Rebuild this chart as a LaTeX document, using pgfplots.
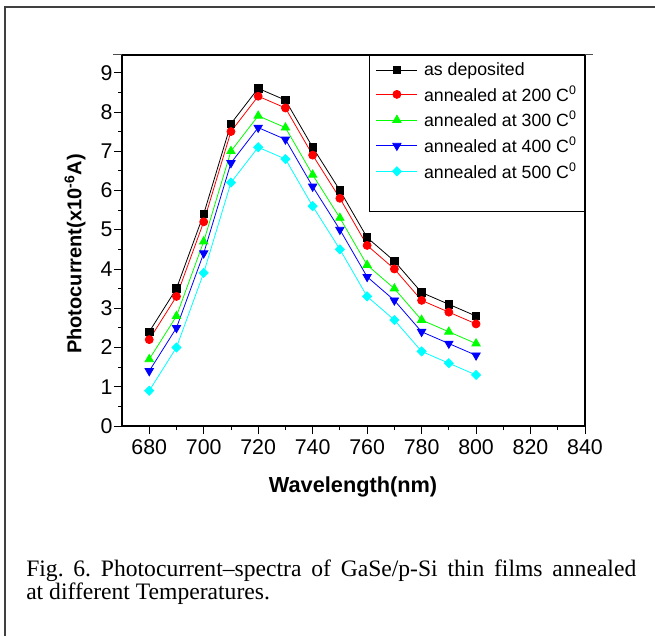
\documentclass[border=0pt]{standalone}
\usepackage{fontspec}
\setmainfont{Liberation Sans}
\newfontfamily\capfont{Liberation Serif}
\usepackage{pgfplots}
\pgfplotsset{compat=1.18}
\definecolor{cgreen}{RGB}{0,255,0}
\definecolor{ccyan}{RGB}{0,255,255}
\definecolor{cblue}{RGB}{0,0,255}
\definecolor{cred}{RGB}{255,0,0}

\pgfplotstableread{
wl   dep  a200 a300 a400 a500
680  2.4  2.2  1.7  1.4  0.9
690  3.5  3.3  2.8  2.5  2.0
700  5.4  5.2  4.7  4.4  3.9
710  7.7  7.5  7.0  6.7  6.2
720  8.6  8.4  7.9  7.6  7.1
730  8.3  8.1  7.6  7.3  6.8
740  7.1  6.9  6.4  6.1  5.6
750  6.0  5.8  5.3  5.0  4.5
760  4.8  4.6  4.1  3.8  3.3
770  4.2  4.0  3.5  3.2  2.7
780  3.4  3.2  2.7  2.4  1.9
790  3.1  2.9  2.4  2.1  1.6
800  2.8  2.6  2.1  1.8  1.3
}\photo

\begin{document}
\begin{tikzpicture}
\useasboundingbox (0,0) rectangle (491.25pt,477pt);
% frame of the figure (top and left edges only, rest is cropped)
\draw[line width=1.4pt, black!75] (491.25pt,471.75pt) -- (3.75pt,471.75pt) -- (3.75pt,0pt);

\begin{axis}[
    at={(91.5pt,157.5pt)}, anchor=south west,
    scale only axis, width=347.25pt, height=278.25pt,
    xmin=670, xmax=840, ymin=0, ymax=9.45,
    xtick={680,700,...,840}, ytick={0,1,...,9},
    minor x tick num=1, minor y tick num=1,
    xtick pos=bottom, ytick pos=left,
    tick align=outside,
    major tick length=6pt, minor tick length=3pt,
    tick style={black, line width=0.6pt},
    axis line style={line width=0.8pt},
    /pgf/number format/assume math mode=true,
    /pgf/number format/1000 sep={},
    tick label style={font=\fontsize{16}{18}\selectfont},
    xticklabel style={yshift=-1pt},
    yticklabel style={inner xsep=1pt},
    xlabel={\textbf{Wavelength(nm)}},
    ylabel={\textbf{Photocurrent(x10\textsuperscript{-6}A)}},
    xlabel style={font=\fontsize{16.3}{18}\selectfont, at={(axis description cs:0.499,-0.164)}, anchor=center},
    ylabel style={font=\fontsize{15}{18}\selectfont, at={(axis description cs:-0.1015,0.4636)}, anchor=center},
    legend cell align=left,
    legend style={at={(1,1)}, anchor=north east, draw=black, line width=0.6pt,
        font=\fontsize{13.3}{15}\selectfont, row sep=4pt,
        inner xsep=5pt, inner ysep=4.5pt,
        nodes={inner sep=1pt}},
    legend image code/.code={
        \draw[mark repeat=2, mark phase=2, #1] plot coordinates {(0pt,0pt) (15.4pt,0pt) (30.8pt,0pt)};
        \path (34.5pt,0pt);},
    every axis plot/.append style={line width=0.6pt},
]
\addplot[black, mark=square*, mark size=2.8pt, mark options={solid, fill=black}] table[x=wl, y=dep] {\photo};
\addlegendentry{as deposited}
\addplot[cred, mark=*, mark size=3pt, mark options={solid, fill=cred}] table[x=wl, y=a200] {\photo};
\addlegendentry{annealed at 200 C\textsuperscript{0}}
\addplot[cgreen, mark=triangle*, mark size=3.6pt, mark options={solid, fill=cgreen}] table[x=wl, y=a300] {\photo};
\addlegendentry{annealed at 300 C\textsuperscript{0}}
\addplot[cblue, mark=triangle*, mark size=3.6pt, mark options={solid, fill=cblue, rotate=180}] table[x=wl, y=a400] {\photo};
\addlegendentry{annealed at 400 C\textsuperscript{0}}
\addplot[ccyan, mark=diamond*, mark size=3.4pt, mark options={solid, fill=ccyan, xscale=1.33}] table[x=wl, y=a500] {\photo};
\addlegendentry{annealed at 500 C\textsuperscript{0}}
\addlegendimage{empty legend}
\addlegendentry{\strut}
\end{axis}
% small overhangs of the top axis line, as in the original plot
\draw[line width=0.6pt, black!70] (85pt,436.5pt) -- (91.5pt,436.5pt);
\draw[line width=0.6pt, black!70] (438.75pt,436.5pt) -- (444.75pt,436.5pt);

\node[anchor=north west, inner sep=0pt, text width=457.5pt, align=justify,
      font=\capfont\fontsize{17.7}{14.8}\selectfont] at (19.5pt,57.4pt)
  {\lineskiplimit=-20pt\lineskip=0pt\frenchspacing Fig. 6. Photocurrent–spectra of GaSe/p-Si thin films annealed\linebreak at different Temperatures.};
\end{tikzpicture}
\end{document}
